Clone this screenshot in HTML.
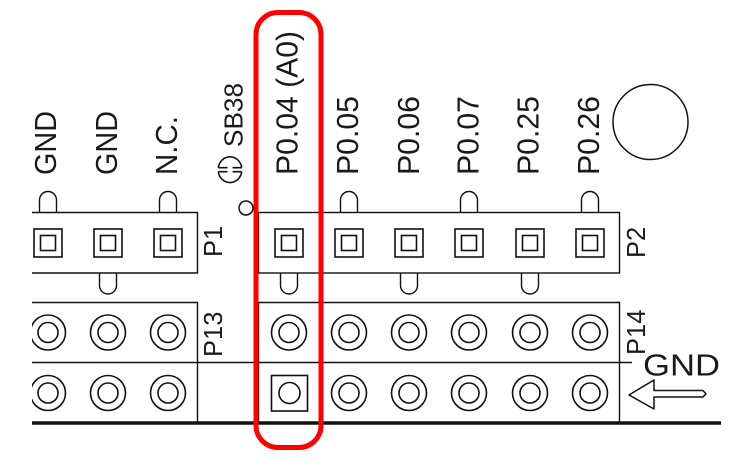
<!DOCTYPE html>
<html>
<head>
<meta charset="utf-8">
<style>
  html, body { margin: 0; padding: 0; background: #fff; }
  svg { display: block; }
  text { font-family: "Liberation Sans", Arial, sans-serif; fill: #1a1a1a; }
</style>
</head>
<body>
<svg width="740" height="467" viewBox="0 0 740 467" xmlns="http://www.w3.org/2000/svg">
  <rect width="740" height="467" fill="#fff"/>
  <defs>
    <clipPath id="c"><rect x="32" y="0" width="708" height="467"/></clipPath>
  </defs>

  <g clip-path="url(#c)" fill="none" stroke="#111" stroke-width="1.4">
    <!-- P1 box (open at left) -->
    <path d="M32 212.5 H197.5 V273 H32"/>
    <!-- P2 box -->
    <rect x="258.5" y="212.5" width="361" height="60.5"/>

    <!-- top tabs -->
    <path d="M39.5 212.5 V200 A8.5 8.5 0 0 1 56.5 200 V212.5"/>
    <path d="M159.5 212.5 V200 A8.5 8.5 0 0 1 176.5 200 V212.5"/>
    <path d="M340.5 212.5 V200 A8.5 8.5 0 0 1 357.5 200 V212.5"/>
    <path d="M460.5 212.5 V200 A8.5 8.5 0 0 1 477.5 200 V212.5"/>
    <path d="M581.5 212.5 V200 A8.5 8.5 0 0 1 598.5 200 V212.5"/>

    <!-- bottom tabs -->
    <path d="M99.5 273 V285.5 A8.5 8.5 0 0 0 116.5 285.5 V273"/>
    <path d="M280.5 273 V285.5 A8.5 8.5 0 0 0 297.5 285.5 V273"/>
    <path d="M400.5 273 V285.5 A8.5 8.5 0 0 0 417.5 285.5 V273"/>
    <path d="M521.5 273 V285.5 A8.5 8.5 0 0 0 538.5 285.5 V273"/>

    <!-- square pins row -->
    <g stroke-width="1.6">
      <rect x="34" y="229" width="28" height="28"/><rect x="40.5" y="235.5" width="15" height="15"/>
      <rect x="94" y="229" width="28" height="28"/><rect x="100.5" y="235.5" width="15" height="15"/>
      <rect x="154" y="229" width="28" height="28"/><rect x="160.5" y="235.5" width="15" height="15"/>
      <rect x="275" y="229" width="28" height="28"/><rect x="281.5" y="235.5" width="15" height="15"/>
      <rect x="335" y="229" width="28" height="28"/><rect x="341.5" y="235.5" width="15" height="15"/>
      <rect x="395" y="229" width="28" height="28"/><rect x="401.5" y="235.5" width="15" height="15"/>
      <rect x="455" y="229" width="28" height="28"/><rect x="461.5" y="235.5" width="15" height="15"/>
      <rect x="516" y="229" width="28" height="28"/><rect x="522.5" y="235.5" width="15" height="15"/>
      <rect x="576" y="229" width="28" height="28"/><rect x="582.5" y="235.5" width="15" height="15"/>
    </g>

    <!-- P13 box -->
    <path d="M32 302.5 H197.5 V423"/>
    <!-- P14 box -->
    <path d="M258.5 423 V302.5 H619.5 V423"/>
    <!-- middle line -->
    <path d="M32 362.5 H632"/>
    <!-- bottom thick line -->
    <path d="M32 423 H721" stroke-width="3.6"/>

    <!-- ring pins -->
    <g stroke-width="1.6">
      <circle cx="48" cy="332.5" r="17.5"/><circle cx="48" cy="332.5" r="10"/>
      <circle cx="108" cy="332.5" r="17.5"/><circle cx="108" cy="332.5" r="10"/>
      <circle cx="168" cy="332.5" r="17.5"/><circle cx="168" cy="332.5" r="10"/>
      <circle cx="289" cy="332.5" r="17.5"/><circle cx="289" cy="332.5" r="10"/>
      <circle cx="349" cy="332.5" r="17.5"/><circle cx="349" cy="332.5" r="10"/>
      <circle cx="409" cy="332.5" r="17.5"/><circle cx="409" cy="332.5" r="10"/>
      <circle cx="469" cy="332.5" r="17.5"/><circle cx="469" cy="332.5" r="10"/>
      <circle cx="530" cy="332.5" r="17.5"/><circle cx="530" cy="332.5" r="10"/>
      <circle cx="590" cy="332.5" r="17.5"/><circle cx="590" cy="332.5" r="10"/>

      <circle cx="48" cy="393" r="17.5"/><circle cx="48" cy="393" r="10"/>
      <circle cx="108" cy="393" r="17.5"/><circle cx="108" cy="393" r="10"/>
      <circle cx="168" cy="393" r="17.5"/><circle cx="168" cy="393" r="10"/>
      <rect x="271.5" y="375.5" width="36" height="35.5"/><circle cx="289.5" cy="393" r="10.5"/>
      <circle cx="349" cy="393" r="17.5"/><circle cx="349" cy="393" r="10"/>
      <circle cx="409" cy="393" r="17.5"/><circle cx="409" cy="393" r="10"/>
      <circle cx="469" cy="393" r="17.5"/><circle cx="469" cy="393" r="10"/>
      <circle cx="530" cy="393" r="17.5"/><circle cx="530" cy="393" r="10"/>
      <circle cx="590" cy="393" r="17.5"/><circle cx="590" cy="393" r="10"/>
    </g>

    <!-- big mounting circle -->
    <circle cx="650.5" cy="122" r="37.5" stroke-width="1.5"/>
    <!-- small circle near P2 corner -->
    <circle cx="246" cy="208" r="7" stroke-width="1.5"/>

    <!-- solder bridge symbol -->
    <g stroke-width="1.6">
      <path d="M218.3 167.7 A11.8 12.5 0 0 1 241.7 167.7"/>
      <path d="M218.3 167.7 H227.5 M232.5 167.7 H241.7"/>
      <path d="M218.3 171.7 A11.8 12.5 0 0 0 241.7 171.7"/>
      <path d="M218.3 171.7 H227.5 M232.5 171.7 H241.7"/>
    </g>

    <!-- GND arrow -->
    <path d="M629 395 L654 380 L654 390.5 L703 390.5 L706 393.8 L703 397 L654 397 L654 409 Z" stroke-width="1.5" stroke-linejoin="round"/>
  </g>

  <!-- red highlight -->
  <rect x="256" y="12.5" width="65" height="435" rx="22" ry="22" fill="none" stroke="#f00" stroke-width="5"/>

  <!-- vertical labels -->
  <g font-size="31">
    <text transform="translate(56,175) rotate(-90)" textLength="64" lengthAdjust="spacingAndGlyphs">GND</text>
    <text transform="translate(117,175) rotate(-90)" textLength="64" lengthAdjust="spacingAndGlyphs">GND</text>
    <text transform="translate(177,175) rotate(-90)" textLength="59" lengthAdjust="spacingAndGlyphs">N.C.</text>
    <text transform="translate(297.5,175) rotate(-90)" textLength="144" lengthAdjust="spacingAndGlyphs">P0.04 (A0)</text>
    <text transform="translate(358,175) rotate(-90)" textLength="79" lengthAdjust="spacingAndGlyphs">P0.05</text>
    <text transform="translate(419,175) rotate(-90)" textLength="79" lengthAdjust="spacingAndGlyphs">P0.06</text>
    <text transform="translate(478.5,175) rotate(-90)" textLength="79" lengthAdjust="spacingAndGlyphs">P0.07</text>
    <text transform="translate(538.5,175) rotate(-90)" textLength="79" lengthAdjust="spacingAndGlyphs">P0.25</text>
    <text transform="translate(599,175) rotate(-90)" textLength="79" lengthAdjust="spacingAndGlyphs">P0.26</text>
  </g>
  <g font-size="25.5">
    <text transform="translate(242.5,147) rotate(-90)" textLength="64" lengthAdjust="spacingAndGlyphs">SB38</text>
    <text transform="translate(222,257) rotate(-90)">P1</text>
    <text transform="translate(645,258) rotate(-90)">P2</text>
    <text transform="translate(222,357) rotate(-90)">P13</text>
    <text transform="translate(645,355) rotate(-90)">P14</text>
  </g>
  <text x="643" y="375.5" font-size="31" textLength="77" lengthAdjust="spacingAndGlyphs">GND</text>
</svg>
</body>
</html>
